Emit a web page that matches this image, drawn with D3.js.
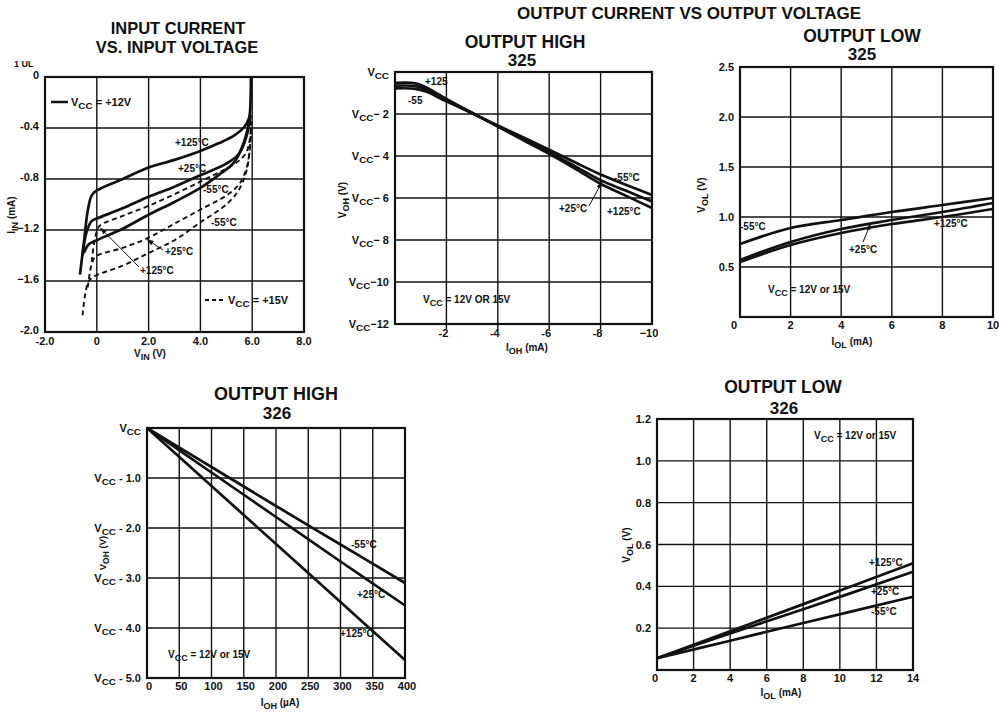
<!DOCTYPE html>
<html>
<head>
<meta charset="utf-8">
<script src="https://cdn.jsdelivr.net/npm/d3@7"></script>
<style>
  html, body { margin: 0; padding: 0; background: #fff; }
  svg { display: block; }
  text { font-family: 'Liberation Sans', Arial, Helvetica, sans-serif; fill: #111; }
</style>
</head>
<body>
<svg id="chart" width="999" height="712"></svg>
<script>
// ---------- Input current vs input voltage (1 UL) ----------
const inXTicks = [-2, 0, 2, 4, 6, 8];
const inXLabels = ["-2.0", "0", "2.0", "4.0", "6.0", "8.0"];
const inYTicks = [0, -0.4, -0.8, -1.2, -1.6, -2.0];
const inYLabels = ["0", "-0.4", "-0.8", "\u22121.2", "\u22121.6", "-2.0"];

// VCC = +12V (solid), points are [V_IN, I_IN]
const in12_p125 = [[-0.65,-1.55],[-0.5,-1.3],[-0.35,-1.05],[-0.2,-0.93],[0,-0.89],[1,-0.8],[2,-0.71],[3,-0.65],[4,-0.58],[4.7,-0.52],[5.3,-0.46],[5.7,-0.39],[5.88,-0.32],[5.94,-0.15],[5.95,0]];
const in12_p25  = [[-0.55,-1.4],[-0.4,-1.22],[-0.2,-1.13],[0,-1.11],[1,-1.03],[2,-0.94],[3,-0.86],[4,-0.77],[5,-0.68],[5.5,-0.6],[5.8,-0.45],[5.93,-0.3]];
const in12_m55  = [[-0.5,-1.38],[-0.3,-1.31],[0,-1.28],[1,-1.19],[2,-1.08],[3,-0.98],[4,-0.87],[4.7,-0.77],[5.3,-0.67],[5.7,-0.5],[5.93,-0.3]];
// VCC = +15V (dashed)
const in15_p125 = [[-0.2,-1.45],[-0.05,-1.25],[0.1,-1.17],[1,-1.09],[2,-1.01],[3,-0.92],[4,-0.82],[4.8,-0.74],[5.4,-0.67],[5.75,-0.6],[5.9,-0.5],[5.96,-0.35]];
const in15_p25  = [[-0.35,-1.65],[-0.2,-1.47],[-0.05,-1.41],[1,-1.34],[2,-1.26],[3,-1.15],[4,-1.04],[5,-0.93],[5.5,-0.84],[5.8,-0.7],[5.93,-0.5],[5.97,-0.35]];
const in15_m55  = [[-0.55,-1.87],[-0.35,-1.62],[-0.15,-1.57],[1,-1.48],[2,-1.38],[3,-1.28],[4,-1.14],[5,-1.0],[5.5,-0.88],[5.8,-0.72],[5.93,-0.5],[5.97,-0.35]];

// ---------- Output high, 325 ----------
const oh325XTicks = [-2, -4, -6, -8, -10];
const oh325XLabels = ["-2", "-4", "-6", "-8", "\u221210"];
const oh325YTicks = [0, 2, 4, 6, 8, 10, 12];
const oh325YLabels = ["", "\u2212 2", "\u2212 4", "\u2212 6", "\u2212 8", "\u221210", "\u221212"];
// points are [I_OH (mA), volts below VCC]
const oh325_m55  = [[0,0.78],[-0.8,0.8],[-1.2,0.93],[-2,1.4],[-3,1.97],[-4,2.55],[-5,3.12],[-6,3.7],[-7,4.3],[-8,4.88],[-9,5.38],[-10,5.86]];
const oh325_p25  = [[0,0.65],[-0.8,0.67],[-1.2,0.82],[-2,1.33],[-3,1.95],[-4,2.58],[-5,3.2],[-6,3.82],[-7,4.48],[-8,5.15],[-9,5.66],[-10,6.17]];
const oh325_p125 = [[0,0.52],[-0.8,0.54],[-1.2,0.72],[-2,1.28],[-3,1.94],[-4,2.6],[-5,3.25],[-6,3.9],[-7,4.6],[-8,5.32],[-9,5.9],[-10,6.48]];

// ---------- Output low, 325 ----------
const ol325XTicks = [0, 2, 4, 6, 8, 10];
const ol325YTicks = [0.5, 1.0, 1.5, 2.0, 2.5];
const ol325YLabels = ["0.5", "1.0", "1.5", "2.0", "2.5"];
const ol325_m55  = [[0,0.73],[2,0.89],[4,0.97],[6,1.05],[8,1.12],[10,1.19]];
const ol325_p25  = [[0,0.57],[2,0.75],[4,0.88],[6,0.97],[8,1.05],[10,1.14]];
const ol325_p125 = [[0,0.55],[2,0.72],[4,0.84],[6,0.93],[8,1.0],[10,1.08]];

// ---------- Output high, 326 ----------
const oh326XTicks = [0, 50, 100, 150, 200, 250, 300, 350, 400];
const oh326YTicks = [0, 1, 2, 3, 4, 5];
const oh326YLabels = ["", " - 1.0", " - 2.0", " - 3.0", " - 4.0", " - 5.0"];
const oh326_m55  = [[0,0],[100,0.78],[200,1.56],[300,2.33],[400,3.1]];
const oh326_p25  = [[0,0],[100,0.89],[200,1.78],[300,2.67],[400,3.55]];
const oh326_p125 = [[0,0],[100,1.16],[200,2.32],[300,3.48],[400,4.64]];

// ---------- Output low, 326 ----------
const ol326XTicks = [0, 2, 4, 6, 8, 10, 12, 14];
const ol326YTicks = [0.2, 0.4, 0.6, 0.8, 1.0, 1.2];
const ol326YLabels = ["0.2", "0.4", "0.6", "0.8", "1.0", "1.2"];
const ol326_p125 = [[0,0.056],[4,0.185],[8,0.315],[14,0.51]];
const ol326_p25  = [[0,0.056],[4,0.175],[8,0.29],[14,0.47]];
const ol326_m55  = [[0,0.056],[4,0.14],[8,0.225],[14,0.35]];

const svg = d3.select("#chart");
const INK = "#111";

svg.append("defs").append("marker")
  .attr("id", "head").attr("viewBox", "0 0 10 10")
  .attr("refX", 9).attr("refY", 5)
  .attr("markerWidth", 7).attr("markerHeight", 7)
  .attr("orient", "auto")
  .append("path").attr("d", "M0,1.5 L10,5 L0,8.5 Z").attr("fill", INK);

// text with subscripts: parts = [[str, isSub], ...]
function rich(g, x, y, parts, opts = {}) {
  const t = g.append("text").attr("x", x).attr("y", y)
    .attr("font-size", opts.size || 11)
    .attr("font-weight", opts.weight || "bold")
    .attr("text-anchor", opts.anchor || "start");
  if (opts.rotate) t.attr("transform", `rotate(${opts.rotate},${x},${y})`);
  let shifted = false;
  parts.forEach(([s, sub]) => {
    const ts = t.append("tspan").text(s);
    if (sub && !shifted) { ts.attr("dy", 3).attr("font-size", (opts.size || 11) * 0.9); shifted = true; }
    else if (!sub && shifted) { ts.attr("dy", -3); shifted = false; }
  });
  return t;
}

function plain(g, x, y, s, opts = {}) {
  return g.append("text").attr("x", x).attr("y", y).text(s)
    .attr("font-size", opts.size || 11)
    .attr("font-weight", opts.weight || "bold")
    .attr("text-anchor", opts.anchor || "start");
}

function panel(cfg) {
  const g = svg.append("g");
  const x = d3.scaleLinear().domain(cfg.xDomain).range(cfg.xRange);
  const y = d3.scaleLinear().domain(cfg.yDomain).range(cfg.yRange);
  const [x0, x1] = cfg.xRange, [y0, y1] = [Math.min(...cfg.yRange), Math.max(...cfg.yRange)];

  // grid
  g.selectAll(".vg").data(cfg.xGrid).join("line")
    .attr("x1", d => x(d)).attr("x2", d => x(d))
    .attr("y1", y0).attr("y2", y1 + (cfg.tickOut || 0))
    .attr("stroke", INK).attr("stroke-width", 1.4);
  g.selectAll(".hg").data(cfg.yGrid).join("line")
    .attr("y1", d => y(d)).attr("y2", d => y(d))
    .attr("x1", x0).attr("x2", x1)
    .attr("stroke", INK).attr("stroke-width", 1.4);
  // frame
  g.append("rect").attr("x", x0).attr("y", y0)
    .attr("width", x1 - x0).attr("height", y1 - y0)
    .attr("fill", "none").attr("stroke", INK).attr("stroke-width", 2.2);

  // tick labels
  cfg.xTicks.forEach((v, i) => {
    const dx = (cfg.xLabelDx || 0) + (i === 0 && cfg.firstDx ? cfg.firstDx : 0);
    plain(g, x(v) + dx, y1 + cfg.xLabelDy, cfg.xLabels[i], { anchor: "middle" });
  });
  const yDy = cfg.yLabelDy === undefined ? 4 : cfg.yLabelDy;
  cfg.yTicks.forEach((v, i) => {
    if (cfg.yRich) rich(g, x0 - 6, y(v) + yDy, cfg.yRich(cfg.yLabels[i]), { anchor: "end" });
    else plain(g, x0 - 6, y(v) + yDy, cfg.yLabels[i], { anchor: "end" });
  });

  // curves
  const line = d3.line().x(d => x(d[0])).y(d => y(d[1])).curve(d3.curveCatmullRom.alpha(0.5));
  cfg.series.forEach(s => {
    g.append("path").attr("d", line(s.data))
      .attr("fill", "none").attr("stroke", INK)
      .attr("stroke-width", s.dashed ? 1.9 : 2.7)
      .attr("stroke-dasharray", s.dashed ? "5,3.5" : null)
      .attr("stroke-linejoin", "round");
  });
  return { g, x, y };
}

// ===== Panel: input current =====
const p1 = panel({
  xDomain: [-2, 8], xRange: [45, 304], yDomain: [0, -2], yRange: [77, 332],
  xGrid: [0, 2, 4, 6], yGrid: [-0.4, -0.8, -1.2, -1.6],
  xTicks: inXTicks, xLabels: inXLabels, xLabelDy: 13, xLabelDx: 0, firstDx: 0,
  yTicks: inYTicks, yLabels: inYLabels, yLabelDy: 2,
  series: [
    { data: in12_p125 }, { data: in12_p25 }, { data: in12_m55 },
    { data: in15_p125, dashed: true }, { data: in15_p25, dashed: true }, { data: in15_m55, dashed: true }
  ]
});
plain(svg, 178, 34, "INPUT CURRENT", { size: 16.5, anchor: "middle" });
plain(svg, 177, 53, "VS. INPUT VOLTAGE", { size: 16.5, anchor: "middle" });
plain(svg, 14, 67, "1 UL", { size: 9 });
rich(svg, 15, 215, [["I", false], ["IN", true], [" (mA)", false]], { anchor: "middle", rotate: -90, size: 10 });
rich(svg, 150, 357, [["V", false], ["IN", true], [" (V)", false]], { anchor: "middle", size: 10 });
svg.append("line").attr("x1", 51).attr("x2", 68).attr("y1", 102).attr("y2", 102).attr("stroke", INK).attr("stroke-width", 2.5);
rich(svg, 71, 106, [["V", false], ["CC", true], [" = +12V", false]]);
svg.append("line").attr("x1", 205).attr("x2", 224).attr("y1", 300).attr("y2", 300).attr("stroke", INK).attr("stroke-width", 1.8).attr("stroke-dasharray", "4,3");
rich(svg, 228, 304, [["V", false], ["CC", true], [" = +15V", false]]);
plain(svg, 175, 146, "+125°C", { size: 10 });
plain(svg, 178, 172, "+25°C", { size: 10 });
plain(svg, 203, 193, "-55°C", { size: 10 });
plain(svg, 211, 226, "-55°C", { size: 10 });
plain(svg, 165, 255, "+25°C", { size: 10 });
plain(svg, 140, 274, "+125°C", { size: 10 });
svg.append("line").attr("x1", 163).attr("y1", 250).attr("x2", p1.x(1.95)).attr("y2", p1.y(-1.26) + 2)
  .attr("stroke", INK).attr("stroke-width", 1).attr("marker-end", "url(#head)");
svg.append("line").attr("x1", 139).attr("y1", 267).attr("x2", p1.x(0.15)).attr("y2", p1.y(-1.17) + 2)
  .attr("stroke", INK).attr("stroke-width", 1).attr("marker-end", "url(#head)");

// ===== Panel: output high 325 =====
const vccParts = s => [["V", false], ["CC", true], [s, false]];
const p2 = panel({
  xDomain: [0, -10], xRange: [395, 652], yDomain: [0, 12], yRange: [72, 324],
  xGrid: [-2, -4, -6, -8], yGrid: [2, 4, 6, 8, 10], tickOut: 5,
  xTicks: oh325XTicks, xLabels: oh325XLabels, xLabelDy: 13, xLabelDx: -3,
  yTicks: oh325YTicks, yLabels: oh325YLabels, yRich: vccParts,
  series: [{ data: oh325_m55 }, { data: oh325_p25 }, { data: oh325_p125 }]
});
plain(svg, 689, 19, "OUTPUT CURRENT VS OUTPUT VOLTAGE", { size: 17, anchor: "middle" });
plain(svg, 525, 48, "OUTPUT HIGH", { size: 17.5, anchor: "middle" });
plain(svg, 522, 66, "325", { size: 17, anchor: "middle" });
rich(svg, 346, 200, [["V", false], ["OH", true], [" (V)", false]], { anchor: "middle", rotate: -90, size: 10 });
rich(svg, 527, 351, [["I", false], ["OH", true], [" (mA)", false]], { anchor: "middle", size: 10 });
rich(svg, 423, 303, [["V", false], ["CC", true], [" = 12V OR 15V", false]], { size: 10 });
plain(svg, 425, 85, "+125", { size: 10 });
plain(svg, 408, 104, "-55", { size: 10 });
plain(svg, 614, 181, "-55°C", { size: 10 });
plain(svg, 559, 212, "+25°C", { size: 10 });
plain(svg, 607, 215, "+125°C", { size: 10 });
svg.append("line").attr("x1", 589).attr("y1", 206).attr("x2", p2.x(-8.05)).attr("y2", p2.y(5.2) + 1)
  .attr("stroke", INK).attr("stroke-width", 1).attr("marker-end", "url(#head)");

// ===== Panel: output low 325 =====
const p3 = panel({
  xDomain: [0, 10], xRange: [740, 993], yDomain: [0, 2.5], yRange: [317, 67],
  xGrid: [2, 4, 6, 8], yGrid: [0.5, 1.0, 1.5, 2.0],
  xTicks: ol325XTicks, xLabels: ["0", "2", "4", "6", "8", "10"], xLabelDy: 12, xLabelDx: 0, firstDx: -6,
  yTicks: ol325YTicks, yLabels: ol325YLabels,
  series: [{ data: ol325_m55 }, { data: ol325_p25 }, { data: ol325_p125 }]
});
plain(svg, 862, 42, "OUTPUT LOW", { size: 17.5, anchor: "middle" });
plain(svg, 862, 60, "325", { size: 17, anchor: "middle" });
rich(svg, 705, 195, [["V", false], ["OL", true], [" (V)", false]], { anchor: "middle", rotate: -90, size: 10 });
rich(svg, 852, 345, [["I", false], ["OL", true], [" (mA)", false]], { anchor: "middle", size: 10 });
rich(svg, 768, 293, [["V", false], ["CC", true], [" = 12V or 15V", false]], { size: 10 });
plain(svg, 740, 230, "-55°C", { size: 10 });
plain(svg, 849, 253, "+25°C", { size: 10 });
plain(svg, 934, 227, "+125°C", { size: 10 });
svg.append("line").attr("x1", 863).attr("y1", 242).attr("x2", p3.x(5.15)).attr("y2", p3.y(0.93))
  .attr("stroke", INK).attr("stroke-width", 1).attr("marker-end", "url(#head)");

// ===== Panel: output high 326 =====
const p4 = panel({
  xDomain: [0, 400], xRange: [147, 405], yDomain: [0, 5], yRange: [428, 678],
  xGrid: [50, 100, 150, 200, 250, 300, 350], yGrid: [1, 2, 3, 4],
  xTicks: oh326XTicks, xLabels: oh326XTicks.map(String), xLabelDy: 12, xLabelDx: 2,
  yTicks: oh326YTicks, yLabels: oh326YLabels, yRich: vccParts,
  series: [{ data: oh326_m55 }, { data: oh326_p25 }, { data: oh326_p125 }]
});
plain(svg, 276, 400, "OUTPUT HIGH", { size: 18, anchor: "middle" });
plain(svg, 277, 419, "326", { size: 17, anchor: "middle" });
rich(svg, 106, 553, [["V", false], ["OH", true], [" (V)", false]], { anchor: "middle", rotate: -90, size: 9.5 });
rich(svg, 280, 706, [["I", false], ["OH", true], [" (\u00b5A)", false]], { anchor: "middle", size: 10 });
rich(svg, 168, 658, [["V", false], ["CC", true], [" = 12V or 15V", false]], { size: 10 });
plain(svg, 351, 548, "-55°C", { size: 10 });
plain(svg, 357, 598, "+25°C", { size: 10 });
plain(svg, 340, 637, "+125°C", { size: 10 });

// ===== Panel: output low 326 =====
const p5 = panel({
  xDomain: [0, 14], xRange: [657, 913], yDomain: [0, 1.2], yRange: [670, 419],
  xGrid: [2, 4, 6, 8, 10, 12], yGrid: [0.2, 0.4, 0.6, 0.8, 1.0],
  xTicks: ol326XTicks, xLabels: ol326XTicks.map(String), xLabelDy: 12, xLabelDx: 0, firstDx: -2,
  yTicks: ol326YTicks, yLabels: ol326YLabels,
  series: [{ data: ol326_p125 }, { data: ol326_p25 }, { data: ol326_m55 }]
});
plain(svg, 783, 393, "OUTPUT LOW", { size: 17.5, anchor: "middle" });
plain(svg, 784, 414, "326", { size: 17, anchor: "middle" });
rich(svg, 630, 545, [["V", false], ["OL", true], [" (V)", false]], { anchor: "middle", rotate: -90, size: 10 });
rich(svg, 781, 696, [["I", false], ["OL", true], [" (mA)", false]], { anchor: "middle", size: 10 });
rich(svg, 814, 439, [["V", false], ["CC", true], [" = 12V or 15V", false]], { size: 10 });
plain(svg, 869, 566, "+125°C", { size: 10 });
plain(svg, 871, 595, "+25°C", { size: 10 });
plain(svg, 871, 615, "-55°C", { size: 10 });
</script>
</body>
</html>
